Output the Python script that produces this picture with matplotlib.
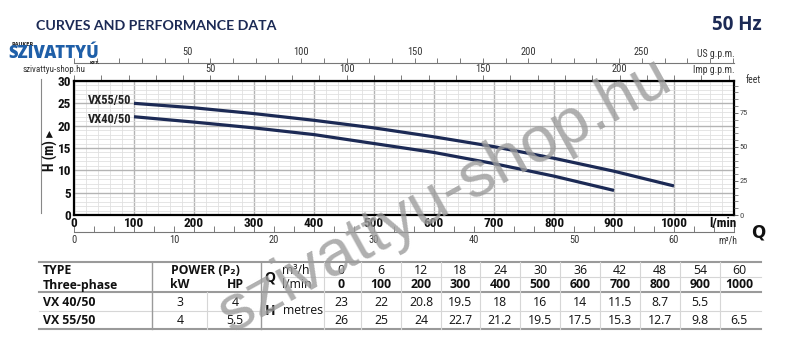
import numpy as np
import matplotlib
matplotlib.use("Agg")
import matplotlib.pyplot as plt
from matplotlib import font_manager
from matplotlib.lines import Line2D
from matplotlib.ticker import MultipleLocator, FixedLocator

q_lpm = [0, 100, 200, 300, 400, 500, 600, 700, 800, 900, 1000]
q_m3h = [0, 6, 12, 18, 24, 30, 36, 42, 48, 54, 60]
h_vx40 = [23, 22, 20.8, 19.5, 18, 16, 14, 11.5, 8.7, 5.5, None]
h_vx55 = [26, 25, 24, 22.7, 21.2, 19.5, 17.5, 15.3, 12.7, 9.8, 6.5]
models = ["VX 40/50", "VX 55/50"]
curve_names = ["VX40/50", "VX55/50"]
power_kw = ["3", "4"]
power_hp = ["4", "5.5"]

names = {f.name for f in font_manager.fontManager.ttflist}
narrow = "Roboto"
for cand in ["Roboto Condensed", "Liberation Sans Narrow", "Open Sans Condensed"]:
    if cand in names:
        narrow = cand
        break
plain = "Open Sans"

navy = "#1c2a55"
fig = plt.figure(figsize=(8, 3.56), dpi=100, facecolor="white")


def px(x, y):
    return x / 800, 1 - y / 356


ax = fig.add_axes([74 / 800, 1 - 215 / 356, 660 / 800, 134 / 356])

# curves start at 100 l/min like the chart
for h, lab, ytxt in [(h_vx55, curve_names[1], 25.7), (h_vx40, curve_names[0], 21.3)]:
    xs = [q for q, v in zip(q_lpm, h) if v is not None and q >= 100]
    ys = [v for q, v in zip(q_lpm, h) if v is not None and q >= 100]
    ax.plot(xs, ys, color=navy, lw=2.3, solid_capstyle="butt", zorder=3)
    ax.text(96, ytxt, lab, ha="right", va="center", fontsize=9,
            fontweight="bold", family=narrow, color="#222")

ax.set_xlim(0, 1100)
ax.set_ylim(0, 30)
ax.xaxis.set_major_locator(MultipleLocator(100))
ax.xaxis.set_minor_locator(MultipleLocator(20))
ax.yaxis.set_major_locator(MultipleLocator(5))
ax.yaxis.set_minor_locator(MultipleLocator(1))
ax.set_xticklabels([str(int(v)) if v <= 1000 else "" for v in ax.get_xticks()])
ax.grid(which="major", color="#b4b4b4", lw=1.0)
ax.grid(which="minor", color="#e0e0e0", lw=0.6)
ax.set_axisbelow(True)
ax.tick_params(which="both", length=0)
ax.tick_params(axis="x", pad=1.5)
ax.tick_params(axis="y", pad=2)
for t in ax.get_xticklabels() + ax.get_yticklabels():
    t.set_fontweight("bold")
    t.set_family(narrow)
    t.set_fontsize(9.5)
    t.set_color("#111")
for s in ax.spines.values():
    s.set_linewidth(1.6)
    s.set_color("black")

ax.text(1082, -2.0, "l/min", ha="center", va="center", fontsize=9.5,
        fontweight="bold", family=narrow, color="#111")

# feet on the right
axf = ax.twinx()
axf.set_ylim(0, 30 * 3.28084)
axf.yaxis.set_major_locator(FixedLocator([0, 25, 50, 75]))
axf.yaxis.set_minor_locator(MultipleLocator(5))
axf.tick_params(which="major", length=3, width=0.6, color="#555", labelsize=6,
                labelcolor="#444", pad=1)
axf.tick_params(which="minor", length=3, width=0.6, color="#777")
for t in axf.get_yticklabels():
    t.set_family(narrow)
for s in axf.spines.values():
    s.set_visible(False)
fig.text(*px(746, 80), "feet", fontsize=7, family=narrow, color="#333",
         va="center", ha="left")

# imperial gpm on top spine
imp = ax.secondary_xaxis("top", functions=(lambda x: x / 4.54609, lambda x: x * 4.54609))
imp.xaxis.set_major_locator(FixedLocator([0, 50, 100, 150, 200]))
imp.xaxis.set_minor_locator(MultipleLocator(10))
imp.set_xticklabels(["", "50", "100", "150", "200"])
imp.tick_params(which="both", length=4, width=0.6, color="#666", labelsize=7.5,
                labelcolor="#333", pad=1)
for t in imp.get_xticklabels():
    t.set_family(narrow)
imp.spines["top"].set_visible(False)
fig.text(*px(735, 70), "Imp g.p.m.", fontsize=7, family=narrow, color="#333",
         ha="right", va="center")

# US gpm on a separate line above
us = ax.secondary_xaxis((215 - 63) / 134, functions=(lambda x: x / 3.78541, lambda x: x * 3.78541))
us.xaxis.set_major_locator(FixedLocator([0, 50, 100, 150, 200, 250]))
us.xaxis.set_minor_locator(MultipleLocator(10))
us.set_xticklabels(["", "50", "100", "150", "200", "250"])
us.tick_params(which="both", length=3.5, width=0.6, color="#666", labelsize=7.5,
               labelcolor="#333", pad=1)
for t in us.get_xticklabels():
    t.set_family(narrow)
us.spines["top"].set_color("#777")
us.spines["top"].set_linewidth(0.8)
fig.text(*px(735, 54), "US g.p.m.", fontsize=7, family=narrow, color="#333",
         ha="right", va="center")

# m3/h below
m3 = ax.secondary_xaxis((215 - 232) / 134, functions=(lambda x: x * 0.06, lambda x: x / 0.06))
m3.xaxis.set_major_locator(FixedLocator([0, 10, 20, 30, 40, 50, 60]))
m3.xaxis.set_minor_locator(MultipleLocator(2))
m3.tick_params(which="both", direction="in", length=4, width=0.6, color="#666",
               labelsize=7.5, labelcolor="#333", pad=2)
for t in m3.get_xticklabels():
    t.set_family(narrow)
m3.spines["bottom"].set_color("#777")
m3.spines["bottom"].set_linewidth(0.8)
fig.text(*px(728, 241), "m³/h", fontsize=7, family=narrow, color="#333",
         ha="center", va="center")
fig.text(*px(758, 233), "Q", fontsize=12, fontweight="bold", color="#111",
         ha="center", va="center")

# y label
fig.text(*px(50, 150), "H (m) \u25B8", rotation=90, fontsize=10, fontweight="bold",
         family=[narrow, "DejaVu Sans"], color="#111", ha="center", va="center")
fig.add_artist(Line2D([41 / 800, 41 / 800], [1 - 79 / 356, 1 - 213 / 356],
                      color="#888", lw=0.8))

# header
fig.text(*px(36, 26), "CURVES AND PERFORMANCE DATA", fontsize=10.2,
         fontweight="bold", family="Lato", color=navy, va="center", ha="left")
fig.text(*px(762, 25), "50 Hz", fontsize=13.5, fontweight="bold", family=plain,
         color=navy, va="center", ha="right")
fig.text(*px(11, 44), "RAUKER", fontsize=3.5, fontweight="bold", color="#222",
         va="center", ha="left")
fig.text(*px(8, 54), "SZIVATTYÚ", fontsize=12, fontweight="heavy", family=plain,
         color="#1f5fa8", va="center", ha="left")
fig.text(*px(90, 63.5), "KFT.", fontsize=3.2, fontweight="bold", color="#222",
         va="center", ha="left")
fig.text(*px(23, 70), "szivattyu-shop.hu", fontsize=6.5, family=narrow,
         color="#333", va="center", ha="left")

# table
tc = "#111"
fs = 8.8
gray = "#9a9a9a"
light = "#d6d6d6"


def hline(y, x0, x1, c, lw):
    fig.add_artist(Line2D([x0 / 800, x1 / 800], [1 - y / 356, 1 - y / 356], color=c, lw=lw))


def vline(x, y0, y1, c, lw):
    fig.add_artist(Line2D([x / 800, x / 800], [1 - y0 / 356, 1 - y1 / 356], color=c, lw=lw))


hline(262, 39, 761, gray, 1.5)
hline(292, 39, 761, gray, 1.5)
hline(329, 39, 761, gray, 1.5)
hline(311, 39, 261, light, 0.8)
hline(311, 324, 761, light, 0.8)
hline(277, 284, 761, light, 0.8)
for x in [152, 261]:
    vline(x, 262, 329, gray, 1.0)
vline(207, 292, 329, light, 0.8)
col_x = [341, 381, 421, 460, 500, 540, 580, 620, 660, 700, 739]
bounds = [324] + [(a + b) / 2 for a, b in zip(col_x[:-1], col_x[1:])]
for x in bounds:
    vline(x, 262, 329, light, 0.8)

fig.text(*px(43, 271), "TYPE", fontsize=fs, fontweight="bold", family=plain,
         color=tc, va="center", ha="left")
fig.text(*px(43, 285), "Three-phase", fontsize=fs, fontweight="bold", family=plain,
         color=tc, va="center", ha="left")
fig.text(*px(205, 271), "POWER (P\u2082)", fontsize=fs, fontweight="bold",
         family=[plain, "DejaVu Sans"], color=tc, va="center", ha="center")
fig.text(*px(180, 285), "kW", fontsize=fs, fontweight="bold", family=plain,
         color=tc, va="center", ha="center")
fig.text(*px(235, 285), "HP", fontsize=fs, fontweight="bold", family=plain,
         color=tc, va="center", ha="center")
fig.text(*px(270, 278), "Q", fontsize=10, fontweight="bold", family=plain,
         color=tc, va="center", ha="center")
fig.text(*px(282, 270), "m³/h", fontsize=fs, family=[plain, "DejaVu Sans"], color=tc,
         va="center", ha="left")
fig.text(*px(282, 285), "l/min", fontsize=fs, family=plain, color=tc,
         va="center", ha="left")
fig.text(*px(270, 311), "H", fontsize=10, fontweight="bold", family=plain,
         color=tc, va="center", ha="center")
fig.text(*px(283, 311), "metres", fontsize=fs, family=plain, color=tc,
         va="center", ha="left")

for i, (m, kw, hp) in enumerate(zip(models, power_kw, power_hp)):
    y = 302 + i * 18
    fig.text(*px(43, y), m, fontsize=fs, fontweight="bold", family=plain,
             color=tc, va="center", ha="left")
    fig.text(*px(180, y), kw, fontsize=fs, family=plain, color=tc,
             va="center", ha="center")
    fig.text(*px(235, y), hp, fontsize=fs, family=plain, color=tc,
             va="center", ha="center")

for x, m3v, lpm, a, b in zip(col_x, q_m3h, q_lpm, h_vx40, h_vx55):
    fig.text(*px(x, 270), str(m3v), fontsize=fs, family=plain, color=tc,
             va="center", ha="center")
    fig.text(*px(x, 285), str(lpm), fontsize=fs, fontweight="bold", family=plain,
             color=tc, va="center", ha="center")
    if a is not None:
        fig.text(*px(x, 302), f"{a:g}", fontsize=fs, family=plain, color=tc,
                 va="center", ha="center")
    fig.text(*px(x, 320), f"{b:g}", fontsize=fs, family=plain, color=tc,
             va="center", ha="center")

# watermark
fig.text(*px(445, 196), "szivattyu-shop.hu", fontsize=47, family="Liberation Sans",
         color="#9c9c9c", alpha=0.8, rotation=29, ha="center", va="center",
         rotation_mode="anchor", zorder=10)

fig.savefig("out.png", dpi=100, facecolor="white")
